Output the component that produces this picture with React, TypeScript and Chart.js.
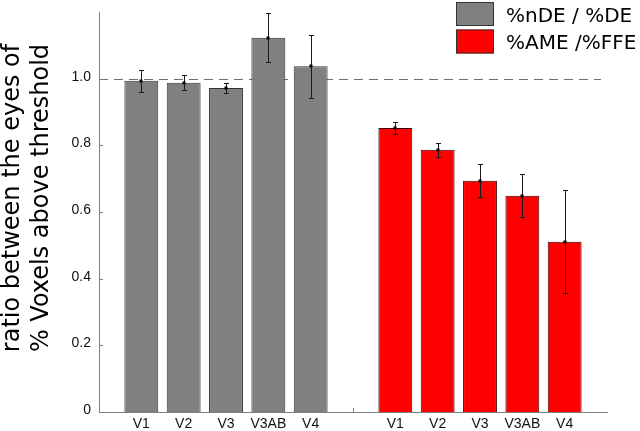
import React, { useEffect, useRef } from 'react';
import { Chart, registerables } from 'chart.js';

Chart.register(...registerables);

// ---- data ----
const regions = ['V1', 'V2', 'V3', 'V3AB', 'V4'];
const categories = ['', ...regions, '', ...regions, ''];

const seriesNames = ['%nDE / %DE', '%AME /%FFE'];
const seriesColors = ['#808080', '#ff0000'];

const grayValues = [0.994, 0.988, 0.972, 1.123, 1.037];
const grayErrors = [0.033, 0.022, 0.015, 0.073, 0.095];
const redValues = [0.852, 0.787, 0.694, 0.649, 0.511];
const redErrors = [0.018, 0.021, 0.049, 0.064, 0.154];

const yTicks = [0, 0.2, 0.4, 0.6, 0.8, 1.0];
const yMax = 1.2;
const referenceLevel = 1.0;
const yTitle = ['ratio between the eyes of', '% Voxels above threshold'];

// aligned to the 13 category slots
const pad = (n: number) => Array(n).fill(null);
const grayData = [null, ...grayValues, ...pad(7)];
const grayErrData = [null, ...grayErrors, ...pad(7)];
const redData = [...pad(7), ...redValues, null];
const redErrData = [...pad(7), ...redErrors, null];

const decor = {
  id: 'decor',
  beforeDatasetsDraw(chart: any) {
    const { ctx, chartArea: a, scales } = chart;
    const x = scales.x;
    const y = scales.y;
    ctx.save();
    // dashed reference line
    const yr = Math.round(y.getPixelForValue(referenceLevel)) + 0.5;
    ctx.strokeStyle = '#6e6e6e';
    ctx.lineWidth = 1;
    ctx.setLineDash([9, 6]);
    ctx.beginPath();
    ctx.moveTo(a.left, yr);
    ctx.lineTo(a.right - 6, yr);
    ctx.stroke();
    ctx.setLineDash([]);
    // inward ticks
    ctx.strokeStyle = '#808080';
    yTicks.forEach((v) => {
      const py = Math.round(y.getPixelForValue(v)) + 0.5;
      ctx.beginPath();
      ctx.moveTo(a.left, py);
      ctx.lineTo(a.left + 4, py);
      ctx.stroke();
    });
    for (let i = 1; i < categories.length - 1; i++) {
      const px = Math.round(x.getPixelForValue(i)) + 0.5;
      ctx.beginPath();
      ctx.moveTo(px, a.bottom);
      ctx.lineTo(px, a.bottom - 4);
      ctx.stroke();
    }
    ctx.restore();
  },
  afterDatasetsDraw(chart: any) {
    const { ctx, scales } = chart;
    const x = scales.x;
    const y = scales.y;
    ctx.save();
    ctx.strokeStyle = '#1a1a1a';
    ctx.fillStyle = '#000';
    ctx.lineWidth = 1;
    const draw = (vals: (number | null)[], errs: (number | null)[]) => {
      vals.forEach((v, i) => {
        const e = errs[i];
        if (v == null || e == null) return;
        const px = Math.round(x.getPixelForValue(i)) + 0.5;
        const pt = Math.round(y.getPixelForValue(v + e)) + 0.5;
        const pb = Math.round(y.getPixelForValue(v - e)) + 0.5;
        const pv = y.getPixelForValue(v);
        ctx.beginPath();
        ctx.moveTo(px, pt);
        ctx.lineTo(px, pb);
        ctx.moveTo(px - 2.5, pt);
        ctx.lineTo(px + 2.5, pt);
        ctx.moveTo(px - 2.5, pb);
        ctx.lineTo(px + 2.5, pb);
        ctx.stroke();
        ctx.fillRect(px - 2, Math.round(pv) - 1.5, 3, 3);
      });
    };
    draw(grayData, grayErrData);
    draw(redData, redErrData);
    ctx.restore();
  },
  afterDraw(chart: any) {
    const { ctx, chartArea: a } = chart;
    ctx.save();
    // legend
    ctx.font = '20px "DejaVu Sans"';
    ctx.textBaseline = 'alphabetic';
    ctx.textAlign = 'left';
    seriesNames.forEach((name, i) => {
      const top = 2 + i * 27.5;
      const left = chart.width - 184;
      ctx.fillStyle = seriesColors[i];
      ctx.fillRect(left, top, 38, 24);
      ctx.strokeStyle = '#333';
      ctx.lineWidth = 1;
      ctx.strokeRect(left + 0.5, top + 0.5, 37, 23);
      ctx.fillStyle = '#000';
      ctx.fillText(name, left + 50, top + 19.5);
    });
    // y axis title
    ctx.font = '24px "DejaVu Sans"';
    ctx.textAlign = 'center';
    ctx.fillStyle = '#000';
    ctx.translate(0, (a.top + a.bottom) / 2 - 14);
    ctx.rotate(-Math.PI / 2);
    yTitle.forEach((line, i) => {
      ctx.fillText(line, 0, 19 + i * 28.5);
    });
    ctx.restore();
  },
};

export default function App() {
  const ref = useRef<HTMLCanvasElement>(null);
  useEffect(() => {
    if (!ref.current) return;
    const chart = new Chart(ref.current, {
      type: 'bar',
      data: {
        labels: categories,
        datasets: [
          {
            label: seriesNames[0],
            data: grayData,
            backgroundColor: seriesColors[0],
            borderColor: '#333',
            borderWidth: 1,
          },
          {
            label: seriesNames[1],
            data: redData,
            backgroundColor: seriesColors[1],
            borderColor: '#3a0000',
            borderWidth: 1,
          },
        ],
      },
      options: {
        responsive: false,
        animation: false,
        maintainAspectRatio: false,
        grouped: false,
        categoryPercentage: 1,
        barPercentage: 0.8,
        layout: { padding: { top: 12, right: 33, left: 0, bottom: 0 } },
        plugins: { legend: { display: false }, tooltip: { enabled: false } },
        scales: {
          x: {
            type: 'category',
            offset: false,
            grid: { display: false, drawTicks: false },
            border: { display: true, color: '#808080', width: 1 },
            ticks: {
              autoSkip: false,
              maxRotation: 0,
              padding: 4,
              color: '#111',
              font: { family: '"Liberation Sans", Arial, sans-serif', size: 14 },
            },
            afterFit: (s: any) => {
              s.height = 19;
              s.paddingLeft = 0;
              s.paddingRight = 0;
            },
          },
          y: {
            type: 'linear',
            min: 0,
            max: yMax,
            grid: { display: false, drawTicks: false },
            border: { display: true, color: '#808080', width: 1 },
            afterBuildTicks: (s: any) => {
              s.ticks = yTicks.map((v) => ({ value: v }));
            },
            ticks: {
              padding: 8,
              labelOffset: -2,
              color: '#111',
              font: { family: '"Liberation Sans", Arial, sans-serif', size: 14 },
              callback: (v: any) => (Number(v) === 0 ? '0' : Number(v).toFixed(1)),
            },
            afterFit: (s: any) => {
              s.width = 99;
              s.paddingTop = 0;
              s.paddingBottom = 0;
            },
          },
        },
      } as any,
      plugins: [decor],
    });
    return () => chart.destroy();
  }, []);
  return (
    <div style={{ position: 'fixed', left: 0, top: 0, width: 640, height: 431, background: '#fff' }}>
      <canvas ref={ref} width={640} height={431} />
    </div>
  );
}
